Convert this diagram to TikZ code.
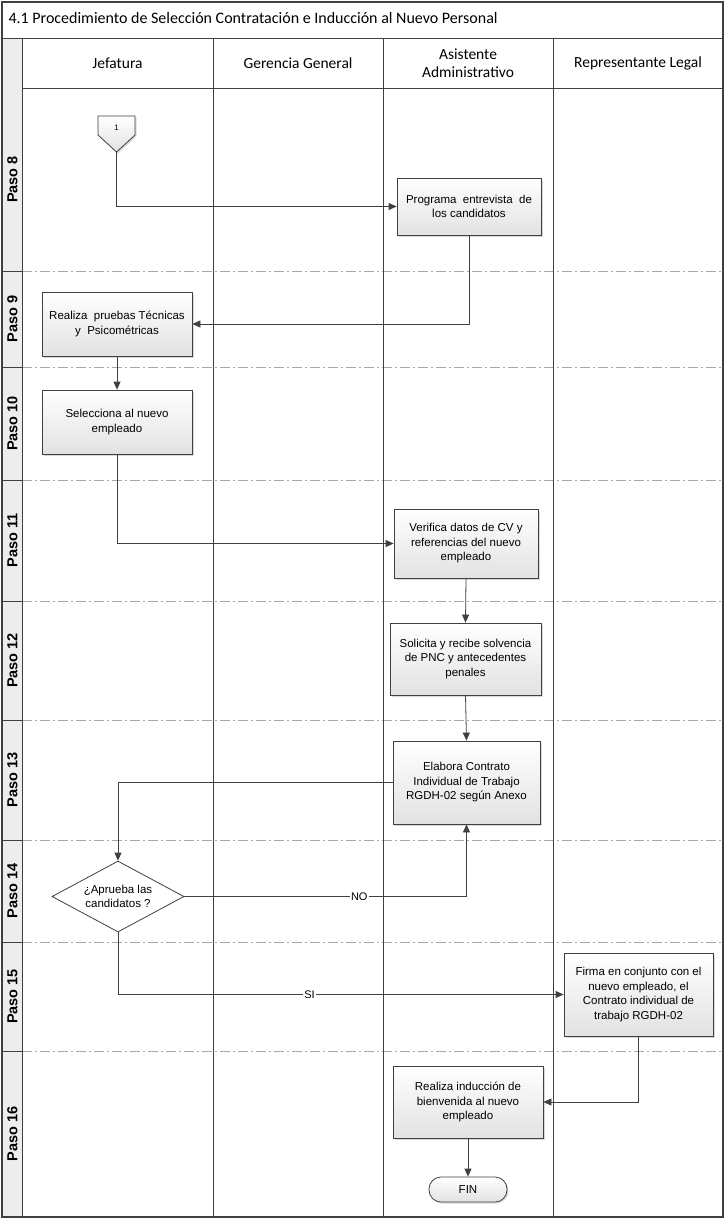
\documentclass[tikz,border=0pt]{standalone}
\usepackage{fontspec}
\setmainfont{Liberation Sans}
\newfontfamily\titlefont{Carlito}
\usetikzlibrary{arrows.meta,shapes.geometric,shadows}

\definecolor{linegray}{HTML}{404040}
\definecolor{sepgray}{HTML}{A8A8A8}
\definecolor{boxgray}{HTML}{E2E2E2}
\definecolor{stripgray}{HTML}{EDEDED}

\begin{document}
\begin{tikzpicture}[x=1pt,y=-1pt,
  frame/.style={draw=linegray, line width=0.9pt},
  sepline/.style={draw=sepgray, line width=1pt, dash pattern=on 10pt off 3pt on 2pt off 3pt},
  flow/.style={draw=linegray, line width=0.8pt, -{Triangle[length=8pt,width=7pt]}},
  shade/.style={drop shadow={shadow xshift=1.5pt, shadow yshift=-1.5pt, opacity=0.15, fill=black}},
  proc/.style={draw=linegray, line width=0.8pt, top color=white, bottom color=boxgray,
    align=center, font=\fontsize{11.5}{14.5}\selectfont, inner sep=2pt, shade},
  decision/.style={diamond, draw=linegray, line width=0.8pt, fill=white, align=center,
    font=\fontsize{11.5}{14.5}\selectfont, inner sep=0pt, aspect=1.86,
    minimum width=132pt, minimum height=71pt},
  terminal/.style={rounded corners=12pt, draw=linegray, line width=0.8pt, top color=white,
    bottom color=boxgray, font=\fontsize{11.5}{14}\selectfont, minimum width=78pt,
    minimum height=25pt, shade},
  lanehead/.style={font=\titlefont\fontsize{15.5}{18}\selectfont, align=center},
  steplabel/.style={rotate=90, font=\bfseries\fontsize{14.5}{16}\selectfont},
  flowlabel/.style={fill=white, inner sep=1pt, font=\fontsize{11}{13}\selectfont}
]
\useasboundingbox (0,0) rectangle (726,1219);
\fill[white] (0,0) rectangle (726,1219);

% step label strip
\fill[stripgray] (3,38) rectangle (22,1217);

% title row and lane headers
\node[anchor=west, font=\titlefont\fontsize{16}{18}\selectfont] (title) at (5,18)
  {4.1 Procedimiento de Selección Contratación e Inducción al Nuevo Personal};
\node[lanehead] (hjef) at (117.5,63) {Jefatura};
\node[lanehead] (hger) at (298,63) {Gerencia General};
\node[lanehead] (hasi) at (468,63) {Asistente\\Administrativo};
\node[lanehead] (hrep) at (638,63) {Representante Legal};

% row separators
\foreach \yy in {271,367,480,601,720,840,942,1051} {
  \draw[sepline] (22,\yy) -- (723,\yy);
  \draw[frame] (3,\yy) -- (22,\yy);
}

% lane grid
\draw[frame] (3,38) -- (723,38);
\draw[frame] (22,88) -- (723,88);
\foreach \xx in {22,213,383,553} \draw[frame] (\xx,38) -- (\xx,1217);
\draw[frame, line width=1.3pt] (2,2) rectangle (723,1217);

% step labels
\foreach \ya/\yb/\n in {88/271/8, 271/367/9, 367/480/10, 480/601/11, 601/720/12,
                        720/840/13, 840/942/14, 942/1051/15, 1051/1217/16}
  \node[steplabel] at (12.5,{(\ya+\yb)/2}) {Paso \n};

% off-page connector
\draw[draw=linegray, line width=0.8pt, top color=white, bottom color=boxgray, shade]
  (98,116) -- (135,116) -- (135,135) -- (116.5,152) -- (98,135) -- cycle;
\node[font=\fontsize{8}{9}\selectfont] (c1) at (116.5,128) {1};
\coordinate (c1tip) at (116.5,152);

% process steps
\node[proc, minimum width=144pt, minimum height=57pt] (prog) at (469,206.5)
  {Programa\ \ entrevista\ \ de\\los candidatos};
\node[proc, minimum width=150pt, minimum height=64pt] (prueb) at (117,324)
  {Realiza\ \ pruebas Técnicas\\y\ \ Psicométricas};
\node[proc, minimum width=150pt, minimum height=64pt] (selec) at (117,422)
  {Selecciona al nuevo\\empleado};
\node[proc, minimum width=144pt, minimum height=69pt] (verif) at (466,543.5)
  {Verifica datos de CV y\\referencias del nuevo\\empleado};
\node[proc, minimum width=151pt, minimum height=72pt] (solic) at (465.5,659)
  {Solicita y recibe solvencia\\de PNC y antecedentes\\penales};
\node[proc, minimum width=147pt, minimum height=83pt] (elab) at (466.5,782.5)
  {Elabora Contrato\\Individual de Trabajo\\RGDH-02 según Anexo};
\node[decision] (aprue) at (118,896.5) {¿Aprueba las\\candidatos ?};
\node[proc, minimum width=149pt, minimum height=83pt] (firma) at (638.5,994.5)
  {Firma en conjunto con el\\nuevo empleado, el\\Contrato individual de\\trabajo RGDH-02};
\node[proc, minimum width=150pt, minimum height=72pt] (induc) at (468,1102)
  {Realiza inducción de\\bienvenida al nuevo\\empleado};
\node[terminal] (fin) at (468,1189.5) {FIN};

% connectors
\draw[flow] (c1tip) |- (prog.west);
\draw[flow] (prog.south) |- (prueb.east);
\draw[flow] (prueb.south) -- (selec.north);
\draw[flow] (selec.south) |- (verif.west);
\draw[flow] (verif.south) -- (solic.north);
\draw[flow] (solic.south) -- (elab.north);
\draw[flow] (elab.west) -| (aprue.north);
\draw[flow] (aprue.east) -| node[flowlabel, pos=0.31] {NO} (elab.south);
\draw[flow] (aprue.south) |- node[flowlabel, pos=0.715] {SI} (firma.west);
\draw[flow] (firma.south) |- (induc.east);
\draw[flow] (induc.south) -- (fin.north);
\end{tikzpicture}
\end{document}
